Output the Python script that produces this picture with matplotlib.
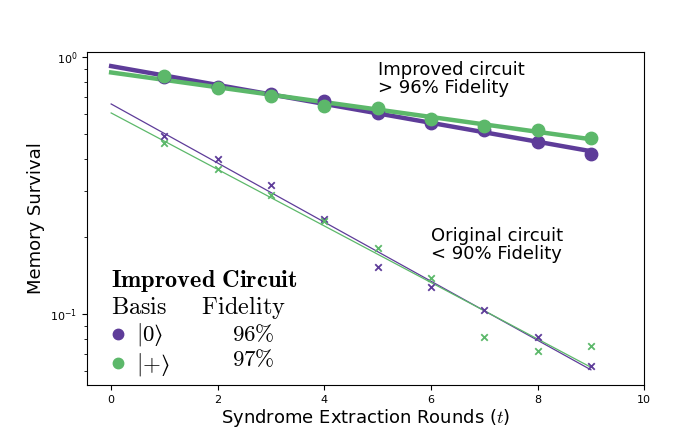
"""Memory survival vs syndrome extraction rounds: original vs improved circuit."""

import numpy as np
import matplotlib
matplotlib.use('Agg')
import matplotlib.pyplot as plt
from matplotlib.lines import Line2D


PURPLE = '#5e3c99'
GREEN = '#5cb86a'

ROUNDS = [1, 2, 3, 4, 5, 6, 7, 8, 9]

# improved circuit (dots)
improved_zero = [0.835, 0.765, 0.72, 0.672, 0.605, 0.553, 0.52, 0.466, 0.42]
improved_plus = [0.845, 0.755, 0.705, 0.645, 0.63, 0.575, 0.54, 0.52, 0.485]

# original circuit (crosses)
original_zero = [0.493, 0.402, 0.318, 0.234, 0.152, 0.127, 0.104, 0.0816, 0.0628]
original_plus = [0.461, 0.366, 0.290, 0.229, 0.181, 0.138, 0.0816, 0.072, 0.075]

BASIS_LABELS = ['$|0\u27e9$', '$|{+}\u27e9$']
FIDELITY_LABELS = [r'$96\%$', r'$97\%$']


def log_fit(rounds, values):
    """Fit log10(values) linearly in rounds, evaluated from t=0 to the last round."""
    slope, intercept = np.polyfit(rounds, np.log10(values), 1)
    t = np.linspace(0, max(rounds), 50)
    return t, 10 ** (slope * t + intercept)


def main():
    plt.rcParams['mathtext.fontset'] = 'cm'
    fig = plt.figure(figsize=(6.81, 4.47), dpi=100)
    ax = fig.add_axes([0.128, 0.139, 0.818, 0.745])

    for values, colour in [(improved_zero, PURPLE), (improved_plus, GREEN)]:
        t, fit = log_fit(ROUNDS, values)
        ax.plot(t, fit, color=colour, linewidth=3.2)
        ax.scatter(ROUNDS, values, color=colour, s=80, zorder=3)

    for values, colour in [(original_zero, PURPLE), (original_plus, GREEN)]:
        t, fit = log_fit(ROUNDS, values)
        ax.plot(t, fit, color=colour, linewidth=0.9)
        ax.scatter(ROUNDS, values, color=colour, marker='x', s=22,
                   linewidths=1.3, zorder=3)

    ax.set_yscale('log')
    ax.set_xlim(-0.45, 10)
    ax.set_ylim(0.053, 1.046)
    ax.tick_params(labelsize=8)
    ax.set_xlabel(r'Syndrome Extraction Rounds ($t$)', fontsize=13, labelpad=2)
    ax.set_ylabel('Memory Survival', fontsize=13)

    ax.text(5.0, 0.965, 'Improved circuit\n> 96% Fidelity', fontsize=13,
            va='top', ha='left', linespacing=1.0)
    ax.text(6.0, 0.218, 'Original circuit\n< 90% Fidelity', fontsize=13,
            va='top', ha='left', linespacing=1.0)

    dot = lambda c: Line2D([], [], marker='o', color=c, linestyle='',
                           markersize=7.5)
    blank = Line2D([], [], linestyle='')
    handles = [dot(PURPLE), dot(GREEN), blank, blank]
    labels = BASIS_LABELS + FIDELITY_LABELS
    title = (r'$\mathbf{Improved\ Circuit}$' + '\n'
             + r'$\mathrm{Basis}\quad\ \ \mathrm{Fidelity}$')
    leg = ax.legend(handles, labels, ncol=2, title=title, loc='lower left',
                    bbox_to_anchor=(0.018, -0.02), frameon=False,
                    fontsize=16.5, title_fontsize=17.5, handletextpad=0.5,
                    columnspacing=1.6, handlelength=0.6, handleheight=0.5,
                    labelspacing=0.1, alignment='left', borderaxespad=0.2)
    leg._legend_box.sep = 0
    leg.get_title().set_linespacing(1.0)

    fig.savefig('out.png', dpi=100)


if __name__ == '__main__':
    main()
